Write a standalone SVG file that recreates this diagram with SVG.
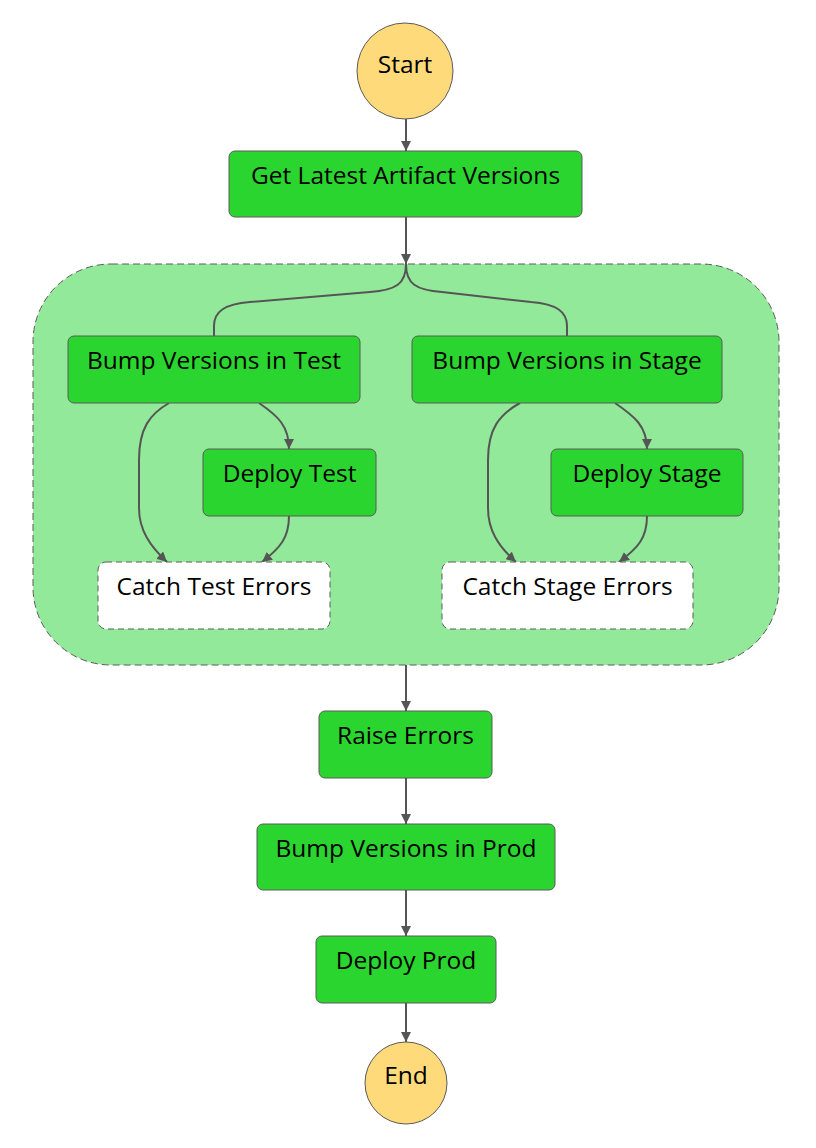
<svg xmlns="http://www.w3.org/2000/svg" width="816" height="1148" viewBox="0 0 816 1148">
<style>
.task{fill:#2bd52f;stroke:#5a5a5a;stroke-width:1}
.catch{fill:#ffffff;stroke:#5a5a5a;stroke-width:1;stroke-dasharray:6,4}
.term{fill:#ffda7b;stroke:#5a5a5a;stroke-width:1}
.lbl{font-family:"Open Sans","Noto Sans",sans-serif;font-size:24.5px;font-weight:500;fill:#000;text-anchor:middle}
.edge{fill:none;stroke:#555;stroke-width:2}
</style>
<defs>
<marker id="arr" viewBox="0 0 10 10" refX="10" refY="5" markerWidth="10" markerHeight="10" markerUnits="userSpaceOnUse" orient="auto">
<path d="M0,0 L10,5 L0,10 z" fill="#555"/>
</marker>
</defs>
<rect width="816" height="1148" fill="#fff"/>
<g id="parallel">
<rect x="33" y="264" width="746" height="401" rx="78" ry="78" fill="#93e99a" stroke="#5a5a5a" stroke-width="1" stroke-dasharray="7,4"/>
</g>
<g id="connectors">
<path class="edge" d="M406,119 L406,151" marker-end="url(#arr)"/>
<path class="edge" d="M406,217 L406,264" marker-end="url(#arr)"/>
<path class="edge" d="M406,264 C406,284 396,290 370,292 L250,302 C224,304 214,312 214,326 L214,336"/>
<path class="edge" d="M406,264 C406,284 416,290 442,292 L531,302 C557,304 567,312 567,326 L567,336"/>
<path class="edge" d="M169,403 C150,414 139,428 139,460 L139,508 C139,530 150,546 167,562" marker-end="url(#arr)"/>
<path class="edge" d="M259,403 C278,416 289,426 289,449" marker-end="url(#arr)"/>
<path class="edge" d="M289,516 C289,538 280,548 262,562" marker-end="url(#arr)"/>
<path class="edge" d="M520,403 C500,414 488,428 488,460 L488,508 C488,530 498,546 516,562" marker-end="url(#arr)"/>
<path class="edge" d="M615,403 C634,416 647,426 647,449" marker-end="url(#arr)"/>
<path class="edge" d="M647,516 C647,538 638,548 619,562" marker-end="url(#arr)"/>
<path class="edge" d="M406,665 L406,711" marker-end="url(#arr)"/>
<path class="edge" d="M406,778 L406,824" marker-end="url(#arr)"/>
<path class="edge" d="M406,890 L406,936" marker-end="url(#arr)"/>
<path class="edge" d="M406,1003 L406,1042" marker-end="url(#arr)"/>
</g>
<g id="start">
<circle class="term" cx="405" cy="71" r="48"/>
<text class="lbl" x="405" y="73">Start</text>
</g>
<g id="get-latest">
<rect class="task" x="229" y="151" width="353" height="66" rx="6"/>
<text class="lbl" x="405.5" y="184">Get Latest Artifact Versions</text>
</g>
<g id="bump-test">
<rect class="task" x="68" y="336" width="292" height="67" rx="6"/>
<text class="lbl" x="214" y="369">Bump Versions in Test</text>
</g>
<g id="bump-stage">
<rect class="task" x="412" y="336" width="310" height="67" rx="6"/>
<text class="lbl" x="567" y="369">Bump Versions in Stage</text>
</g>
<g id="deploy-test">
<rect class="task" x="203" y="449" width="173" height="67" rx="6"/>
<text class="lbl" x="289.5" y="482">Deploy Test</text>
</g>
<g id="deploy-stage">
<rect class="task" x="551" y="449" width="192" height="67" rx="6"/>
<text class="lbl" x="647" y="482">Deploy Stage</text>
</g>
<g id="catch-test">
<rect class="catch" x="98" y="562" width="232" height="67" rx="8"/>
<text class="lbl" x="214" y="595">Catch Test Errors</text>
</g>
<g id="catch-stage">
<rect class="catch" x="442" y="562" width="251" height="67" rx="8"/>
<text class="lbl" x="567.5" y="595">Catch Stage Errors</text>
</g>
<g id="raise-errors">
<rect class="task" x="319" y="711" width="173" height="67" rx="6"/>
<text class="lbl" x="405.5" y="744">Raise Errors</text>
</g>
<g id="bump-prod">
<rect class="task" x="257" y="824" width="298" height="66" rx="6"/>
<text class="lbl" x="406" y="857">Bump Versions in Prod</text>
</g>
<g id="deploy-prod">
<rect class="task" x="316" y="936" width="180" height="67" rx="6"/>
<text class="lbl" x="406" y="969">Deploy Prod</text>
</g>
<g id="end">
<circle class="term" cx="406" cy="1083" r="41"/>
<text class="lbl" x="406" y="1084">End</text>
</g>
</svg>
